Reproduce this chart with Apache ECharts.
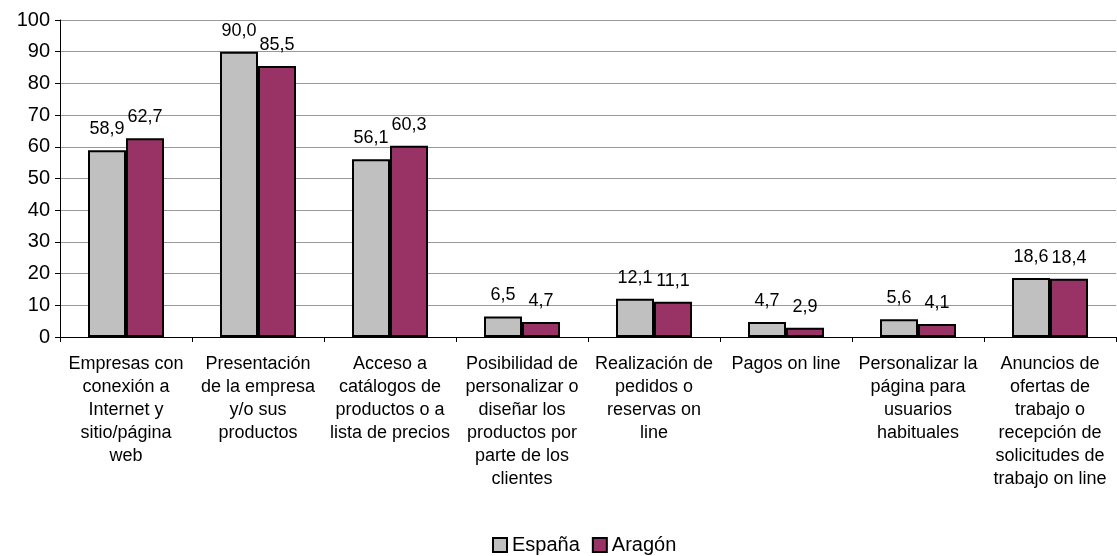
<!DOCTYPE html>
<html>
<head>
<meta charset="utf-8">
<script src="https://cdn.jsdelivr.net/npm/echarts@6/dist/echarts.min.js"></script>
<style>html,body{margin:0;padding:0;background:#fff}#c{width:1117px;height:556px}</style>
</head>
<body>
<div id="c"></div>
<script>
const categories = [
  'Empresas con\nconexión a\nInternet y\nsitio/página\nweb',
  'Presentación\nde la empresa\ny/o sus\nproductos',
  'Acceso a\ncatálogos de\nproductos o a\nlista de precios',
  'Posibilidad de\npersonalizar o\ndiseñar los\nproductos por\nparte de los\nclientes',
  'Realización de\npedidos o\nreservas on\nline',
  'Pagos on line',
  'Personalizar la\npágina para\nusuarios\nhabituales',
  'Anuncios de\nofertas de\ntrabajo o\nrecepción de\nsolicitudes de\ntrabajo on line'
];
const espana = [58.9, 90.0, 56.1, 6.5, 12.1, 4.7, 5.6, 18.6];
const aragon = [62.7, 85.5, 60.3, 4.7, 11.1, 2.9, 4.1, 18.4];
const seriesNames = ['España', 'Aragón'];
const yTicks = [0, 100, 10];

const fmt = p => p.value.toFixed(1).replace('.', ',');
const font = 'Liberation Sans, Arial, sans-serif';
const chart = echarts.init(document.getElementById('c'), null, {renderer: 'canvas'});
const labelStyle = {show: true, position: 'top', distance: 12, formatter: fmt, color: '#000', fontSize: 18, fontFamily: font};
chart.setOption({
  animation: false,
  backgroundColor: '#fff',
  grid: {left: 60, right: 1, top: 20, bottom: 219, containLabel: false},
  legend: {
    top: 530, left: 487, itemWidth: 14, itemHeight: 14, itemGap: 12, icon: 'rect',
    itemStyle: {borderColor: '#000', borderWidth: 2},
    textStyle: {fontSize: 20, fontFamily: font, color: '#000'},
    data: seriesNames
  },
  xAxis: {
    type: 'category', data: categories,
    axisLine: {lineStyle: {color: '#000', width: 1}},
    axisTick: {show: true, length: 5, lineStyle: {color: '#000'}, alignWithLabel: false},
    axisLabel: {interval: 0, color: '#000', fontSize: 18, fontFamily: font, lineHeight: 23, margin: 16, align: 'center'}
  },
  yAxis: {
    type: 'value', min: yTicks[0], max: yTicks[1], interval: yTicks[2],
    axisLine: {show: true, lineStyle: {color: '#000', width: 1}},
    axisTick: {show: true, length: 5, lineStyle: {color: '#000'}},
    axisLabel: {color: '#000', fontSize: 20, fontFamily: font, margin: 10},
    splitLine: {lineStyle: {color: '#999', width: 1}}
  },
  series: [
    {name: seriesNames[0], type: 'bar', data: espana, barWidth: 38, barGap: '0%',
     itemStyle: {color: '#C0C0C0', borderColor: '#000', borderWidth: 2}, label: labelStyle},
    {name: seriesNames[1], type: 'bar', data: aragon, barWidth: 38, barGap: '0%',
     itemStyle: {color: '#993366', borderColor: '#000', borderWidth: 2}, label: labelStyle}
  ]
});
</script>
</body>
</html>
